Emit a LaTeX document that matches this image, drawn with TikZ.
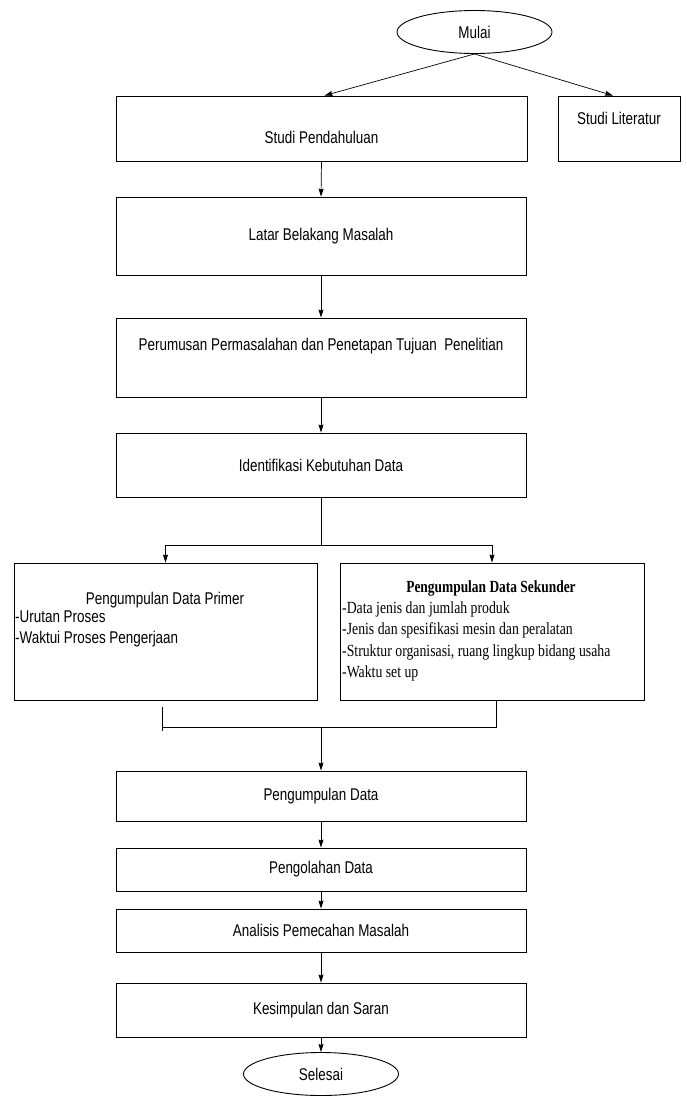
\documentclass[tikz,border=0pt]{standalone}
\usepackage{fontspec}
\setmainfont[FakeStretch=0.79]{Liberation Sans}
\newfontfamily\serifn[FakeStretch=0.81]{Liberation Serif}
\newfontfamily\serifb[FakeStretch=0.79]{Liberation Serif Bold}
\usetikzlibrary{shapes.geometric,arrows.meta}
\begin{document}
\begin{tikzpicture}[x=1pt,y=-1pt,
  box/.style={draw,line width=0.9pt,inner sep=0,font=\fontsize{17}{20}\selectfont},
  oval/.style={draw,ellipse,line width=0.9pt,inner sep=0,minimum width=155pt,minimum height=43pt,font=\fontsize{17}{20}\selectfont},
  txt/.style={inner sep=0,font=\fontsize{17}{20}\selectfont},
  stxt/.style={inner sep=0,font=\serifn\fontsize{17}{21.5}\selectfont},
  line/.style={line width=0.7pt},
  arr/.style={line width=0.7pt,-{Stealth[length=8pt,width=5pt,inset=1pt]}}]
\useasboundingbox (0,0) rectangle (687,1096);
% nodes
\node[oval] (mulai) at (474.5,32) {Mulai};
\node[box,minimum width=411pt,minimum height=65pt] (sp) at (321.5,128.5) {};
\node[txt] (tsp) at (321.5,137) {Studi Pendahuluan};
\node[box,minimum width=122pt,minimum height=65pt] (sl) at (619,128.5) {};
\node[txt] (tsl) at (619,118) {Studi Literatur};
\node[box,minimum width=410pt,minimum height=78pt] (lb) at (321,236) {Latar Belakang Masalah};
\node[box,minimum width=410pt,minimum height=79pt] (pp) at (321,357.5) {};
\node[txt] (tpp) at (321,346) {Perumusan Permasalahan dan Penetapan Tujuan\ \ Penelitian};
\node[box,minimum width=410pt,minimum height=64pt] (ik) at (321,465) {Identifikasi Kebutuhan Data};
\node[box,minimum width=303pt,minimum height=137pt] (prim) at (165.5,631.5) {};
\node[txt] (tprim) at (165,600) {Pengumpulan Data Primer};
\node[txt,anchor=north west,align=left,font=\fontsize{17}{20.5}\selectfont] (lprim) at (15,611) {-Urutan Proses\\-Waktui Proses Pengerjaan};
\node[box,minimum width=304pt,minimum height=137pt] (sek) at (492,631.5) {};
\node[stxt,font=\serifb\fontsize{17}{21.5}\selectfont] (tsek) at (491,588) {Pengumpulan Data Sekunder};
\node[stxt,anchor=north west,align=left] (lsek) at (342,601) {-Data jenis dan jumlah produk\\-Jenis dan spesifikasi mesin dan peralatan\\-Struktur organisasi, ruang lingkup bidang usaha\\-Waktu set up};
\node[box,minimum width=410pt,minimum height=50pt] (pd) at (321,796) {Pengumpulan Data};
\node[box,minimum width=410pt,minimum height=43pt] (po) at (321,869.5) {Pengolahan Data};
\node[box,minimum width=410pt,minimum height=43pt] (ap) at (321,930.5) {Analisis Pemecahan Masalah};
\node[box,minimum width=410pt,minimum height=54pt] (ks) at (321,1010) {Kesimpulan dan Saran};
\node[oval] (sel) at (321,1074) {Selesai};
% junction coordinates
\coordinate (split) at (321,545);
\coordinate (jl) at (162,707);
\coordinate (jl2) at (162,731);
\coordinate (jh) at (162,727);
\coordinate (jr) at (496,727);
\coordinate (jm) at (321,727);
% connectors
\draw[arr] (mulai.south) -- ([xshift=3pt]sp.north);
\draw[arr] (mulai.south) -- ([xshift=-6pt]sl.north);
\draw[arr] (sp.south) -- (lb.north);
\draw[arr] (lb.south) -- (pp.north);
\draw[arr] (pp.south) -- (ik.north);
\draw[line] (ik.south) -- (split);
\draw[arr] (split) -| (prim.north);
\draw[arr] (split) -| (sek.north);
\draw[line] (jl) -- (jl2);
\draw[line] (sek.south -| jr) -- (jr) -- (jh);
\draw[arr] (jm) -- (pd.north);
\draw[arr] (pd.south) -- (po.north);
\draw[arr] (po.south) -- (ap.north);
\draw[arr] (ap.south) -- (ks.north);
\draw[arr] (ks.south) -- (sel.north);
\end{tikzpicture}
\end{document}
